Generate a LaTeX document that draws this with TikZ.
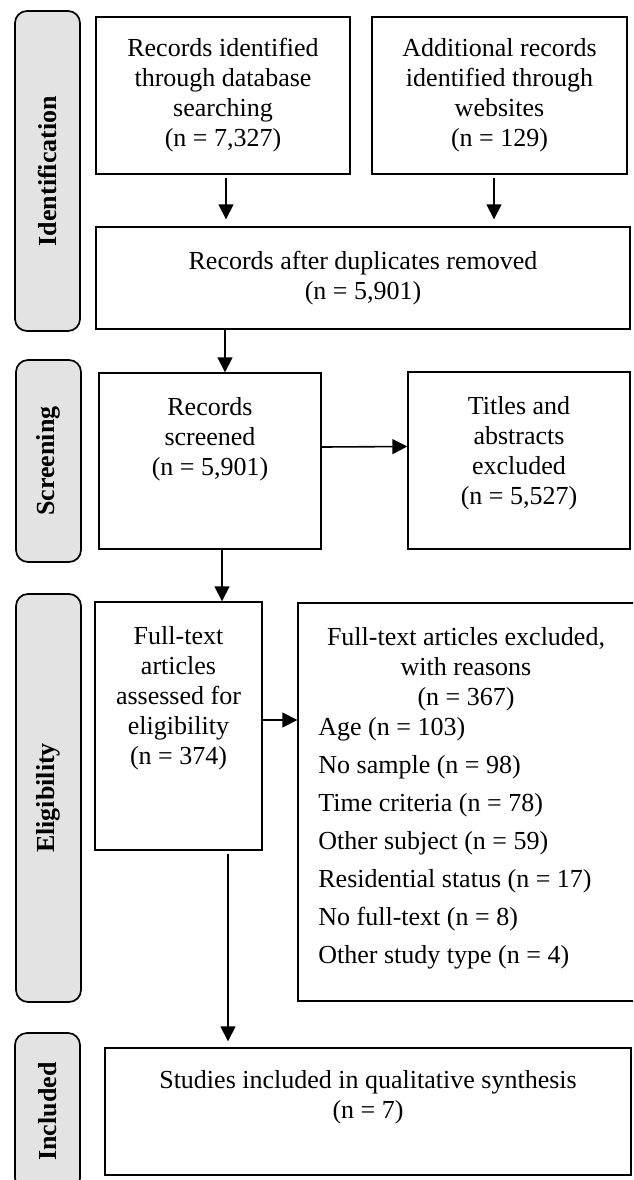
\documentclass[tikz,border=0pt]{standalone}
\usepackage{fontspec}
\setmainfont{Liberation Serif}
\usepackage{tikz}
\usetikzlibrary{arrows.meta}
\usetikzlibrary{shapes}
\usetikzlibrary{positioning}

\begin{document}
\begin{tikzpicture}[x=0.5pt, y=-0.5pt,
  box/.style={rectangle, draw=black, line width=0.7pt, inner sep=0, align=center, font=\fontsize{13}{15}\selectfont},
  txt/.style={inner sep=0, align=center, font=\fontsize{13}{15}\selectfont},
  lane/.style={rectangle, rounded corners=6pt, draw=black, line width=0.85pt, fill=gray!22, rotate=90, minimum height=32.5pt, inner sep=0, font=\fontsize{13}{15}\selectfont\bfseries},
  arr/.style={-{Triangle[length=7.5pt, width=7.5pt]}, draw=black, line width=0.8pt}]
\clip (0, 0) rectangle (633, 1180);
% phases
\node [lane, minimum width=160pt] (ID) at (47.5, 171) {Identification};
\node [lane, minimum width=101pt] (SC) at (48.5, 461) {Screening};
\node [lane, minimum width=204pt] (EL) at (48.5, 798) {Eligibility};
\node [lane, minimum width=78.5pt] (IN) at (47.5, 1111.5) {Included};
% boxes
\node [box, minimum width=127pt, minimum height=78.5pt] (R1) at (223, 95.5) {Records identified\\through database\\searching\\(n = 7,327)};
\node [box, minimum width=127.5pt, minimum height=78.5pt] (R2) at (499.5, 95.5) {Additional records\\identified through\\websites\\(n = 129)};
\node [box, minimum width=267pt, minimum height=51pt] (D) at (363, 278) {Records after duplicates removed\\(n = 5,901)};
\node [box, minimum width=111pt, minimum height=88pt] (S) at (210, 461) {};
\node [txt] (St) at (210, 439) {Records\\screened\\(n = 5,901)};
\node [box, minimum width=111pt, minimum height=88.5pt] (T) at (519, 460.5) {};
\node [txt] (Tt) at (519, 453) {Titles and\\abstracts\\excluded\\(n = 5,527)};
\node [box, minimum width=83.5pt, minimum height=124pt] (F) at (178.5, 726) {};
\node [txt] (Ft) at (178.5, 698) {Full-text\\articles\\assessed for\\eligibility\\(n = 374)};
\node [box, minimum width=169pt, minimum height=199pt] (E) at (467, 802) {};
\node [txt] (Et) at (466, 669) {Full-text articles excluded,\\with reasons\\(n = 367)};
\node [txt, align=left, anchor=west, font=\fontsize{13}{19}\selectfont] (El) at (318, 843) {Age (n = 103)\\No sample (n = 98)\\Time criteria (n = 78)\\Other subject (n = 59)\\Residential status (n = 17)\\No full-text (n = 8)\\Other study type (n = 4)};
\node [box, minimum width=263pt, minimum height=63.5pt] (I) at (368, 1111.5) {};
\node [txt] (It) at (368, 1097) {Studies included in qualitative synthesis\\(n = 7)};
% arrows
\draw [arr, transform canvas={xshift=1.5pt}, shorten <=1.5pt, shorten >=3.5pt] (R1.south) to (R1.south |- D.north);
\draw [arr, transform canvas={xshift=-2.75pt}, shorten <=1.5pt, shorten >=3.5pt] (R2.south) to (R2.south |- D.north);
\draw [arr, transform canvas={xshift=7.5pt}] (D.south -| S.north) to (S.north);
\draw [arr, transform canvas={yshift=7pt}] (S.east) to (T.west);
\draw [arr, transform canvas={xshift=6pt}] (S.south) to (S.south |- F.north);
\draw [arr, transform canvas={yshift=3pt}] (F.east) to (F.east -| E.west);
\draw [arr, transform canvas={xshift=24.75pt}, shorten <=1.5pt, shorten >=3pt] (F.south) to (F.south |- I.north);
\end{tikzpicture}
\end{document}
